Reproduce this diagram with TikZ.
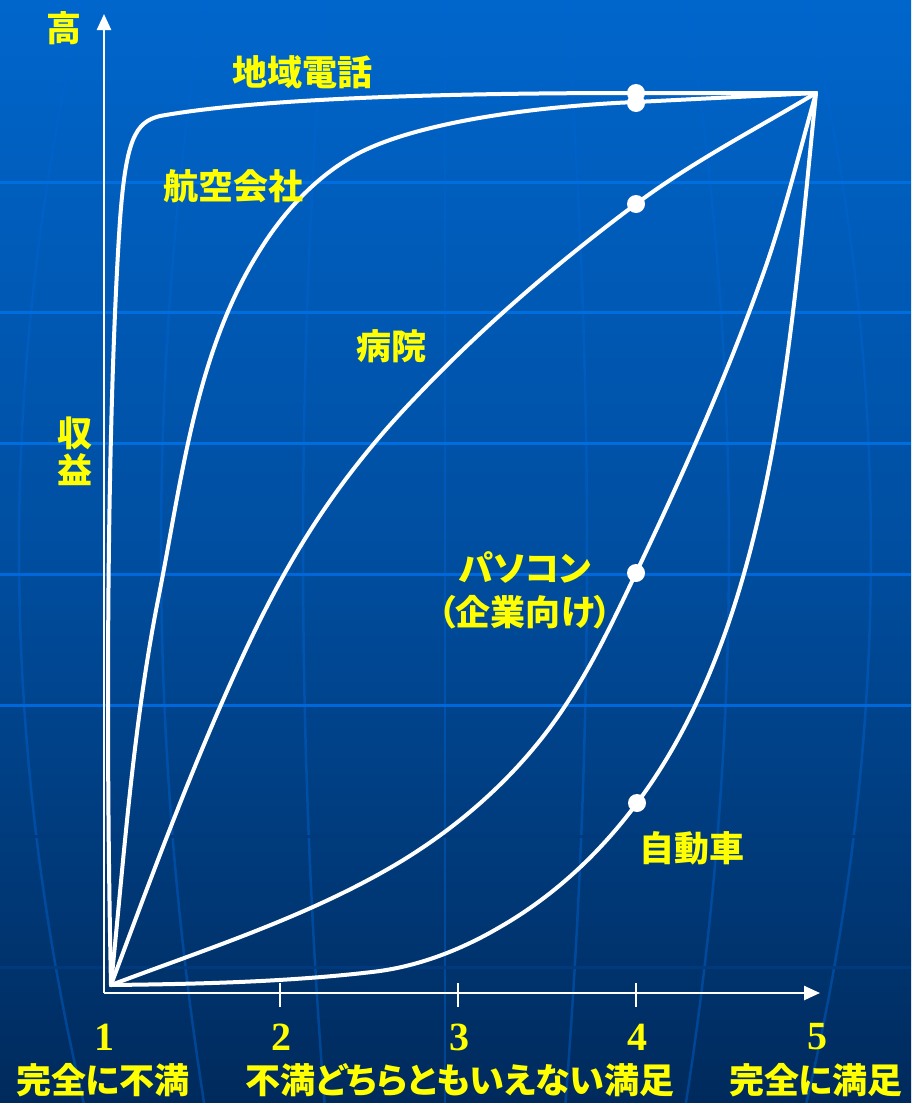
\documentclass[tikz,border=0pt]{standalone}
\usepackage{fontspec}
\setmainfont{Liberation Serif}
\newfontfamily\cjk[RawFeature=+palt]{Noto Sans CJK JP}
\usetikzlibrary{arrows.meta}
\definecolor{bgtop}{RGB}{0,102,204}
\definecolor{bgmid}{RGB}{0,78,160}
\definecolor{bgbot}{RGB}{0,42,92}
\definecolor{labyel}{RGB}{255,255,0}
\definecolor{hlA}{RGB}{0,110,222}
\definecolor{hlB}{RGB}{0,104,218}
\definecolor{hlC}{RGB}{0,58,124}
\definecolor{merc}{RGB}{0,100,210}
\tikzset{
  curve/.style={draw=white, line width=4pt, line join=round, line cap=round},
  axisline/.style={draw=white, line width=2.5pt},
  tickline/.style={draw=white, line width=1.5pt},
  dot/.style={circle, fill=white, inner sep=0pt, minimum size=18pt},
  lab/.style={text=labyel, inner sep=0pt, font=\cjk\bfseries\fontsize{35}{37}\selectfont},
  num/.style={text=labyel, inner sep=0pt, font=\bfseries\fontsize{40}{40}\selectfont},
  mer/.style={draw=merc, line width=2.5pt, opacity=0.45},
}
\begin{document}
\begin{tikzpicture}[x=1pt,y=-1pt]
\useasboundingbox (0,0) rectangle (911,1103);
\shade[top color=bgtop, bottom color=bgbot, middle color=bgmid] (0,0) rectangle (911,1103);
% meridians
\foreach \xm in {19,161,303,445,587,729,871}{
  \draw[mer] plot[domain=-10:1113, samples=40, variable=\t]
    ({445+(\xm-445)*(1-0.15*((\t-550)/550)*((\t-550)/550))}, {\t});
}
% horizontal grid lines
\foreach \yy/\cc in {182/hlA,312/hlA,443/hlA,574/hlB,705/hlB,836/hlC,967/hlC}{
  \draw[line width=3pt, \cc] (0,\yy) -- (911,\yy);
}
% axes
\coordinate (O) at (104,993);
\coordinate (Ytip) at (104,14);
\coordinate (Xtip) at (820,993);
\draw[axisline, -{Triangle[length=16pt,width=14pt]}] (O) -- (Ytip);
\draw[axisline, -{Triangle[length=16pt,width=14pt]}] (O) -- (Xtip);
\foreach \xx in {280,458,636}{
  \draw[tickline] (\xx,983) -- (\xx,1007);
}
% curves
\coordinate (S) at (111,985);
\coordinate (E) at (816,93);
% 地域電話
\draw[curve] (S) .. controls (105,700) and (108,400) .. (120,220)
  .. controls (126,140) and (135,122) .. (160,116)
  .. controls (260,98) and (450,93) .. (636,93) -- (E);
% 航空会社
\draw[curve] (S) .. controls (124,857) and (133,727) .. (158,600)
  .. controls (182,480) and (195,353) .. (260,250)
  .. controls (283,213) and (313,180) .. (350,158)
  .. controls (410,122) and (539,106) .. (636,102) -- (E);
% 病院
\draw[curve] (S) .. controls (146,891) and (180,799) .. (220,707)
  .. controls (244,652) and (269,598) .. (300,547)
  .. controls (332,494) and (370,445) .. (413,400)
  .. controls (481,328) and (557,263) .. (636,204)
  .. controls (692,162) and (756,129) .. (E);
% パソコン
\draw[curve] (S) .. controls (209,948) and (310,916) .. (400,862)
  .. controls (466,822) and (525,768) .. (567,703)
  .. controls (594,662) and (615,617) .. (636,573)
  .. controls (684,472) and (730,369) .. (767,263)
  .. controls (786,207) and (800,150) .. (E);
% 自動車
\draw[curve] (S) .. controls (198,984) and (286,982) .. (372,972)
  .. controls (417,967) and (461,950) .. (500,927)
  .. controls (554,896) and (600,853) .. (637,803)
  .. controls (713,701) and (750,572) .. (773,447)
  .. controls (794,330) and (804,211) .. (E);
% dots
\node[dot] (d1) at (636,93) {};
\node[dot] (d2) at (636,103) {};
\node[dot] (d3) at (636,204) {};
\node[dot] (d4) at (636,573) {};
\node[dot] (d5) at (637,803) {};
% labels
\node[lab] (high) at (64,28) {高};
\node[lab, align=center] (rev) at (75,451) {収\\益};
\node[lab] (l1) at (302,72) {地域電話};
\node[lab] (l2) at (233,186) {航空会社};
\node[lab] (l3) at (391,346) {病院};
\node[lab] (l4) at (525,567) {パソコン};
\node[lab] (l4b) at (525,612) {（企業向け）};
\node[lab] (l5) at (692,848) {自動車};
\node[num] (n1) at (104,1037) {1};
\node[num] (n2) at (281,1037) {2};
\node[num] (n3) at (459,1037) {3};
\node[num] (n4) at (637,1037) {4};
\node[num] (n5) at (817,1037) {5};
\node[lab] (b1) at (103,1080) {完全に不満};
\node[lab] (b2) at (460,1080) {不満どちらともいえない満足};
\node[lab] (b3) at (816,1080) {完全に満足};
\end{tikzpicture}
\end{document}
